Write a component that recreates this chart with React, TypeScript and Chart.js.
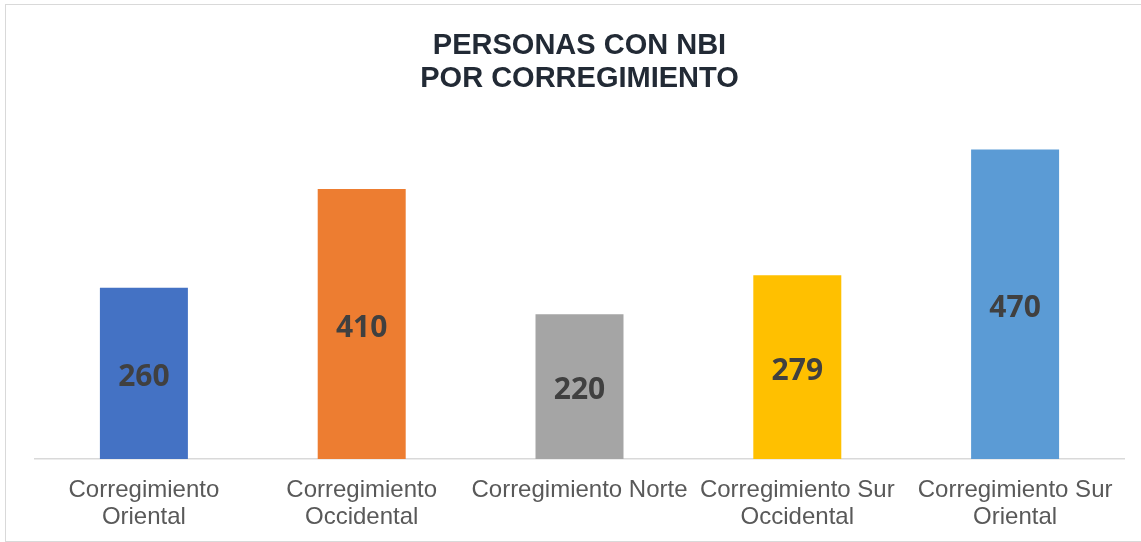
import React, { useEffect, useRef } from "react";
import { Chart, registerables } from "chart.js";

Chart.register(...registerables);

const categories: (string | string[])[] = [
  ["Corregimiento", "Oriental"],
  ["Corregimiento", "Occidental"],
  "Corregimiento Norte",
  ["Corregimiento Sur", "Occidental"],
  ["Corregimiento Sur", "Oriental"],
];
const values = [260, 410, 220, 279, 470];
const barColors = ["#4472C4", "#ED7D31", "#A5A5A5", "#FFC000", "#5B9BD5"];
const titleLines = ["PERSONAS CON NBI", "POR CORREGIMIENTO"];

const valueLabels = {
  id: "valueLabels",
  afterDatasetsDraw(chart: any) {
    const ctx = chart.ctx;
    const meta = chart.getDatasetMeta(0);
    ctx.save();
    ctx.font = "bold 30px 'Open Sans'";
    ctx.fillStyle = "#404040";
    ctx.textAlign = "center";
    ctx.textBaseline = "middle";
    meta.data.forEach((bar: any, i: number) => {
      const { x, y, base } = bar.getProps(["x", "y", "base"], true);
      ctx.fillText(String(chart.data.datasets[0].data[i]), x, (y + base) / 2 + 4);
    });
    ctx.restore();
  },
};

export default function App() {
  const ref = useRef<HTMLCanvasElement>(null);
  useEffect(() => {
    if (!ref.current) return;
    const chart = new Chart(ref.current, {
      type: "bar",
      data: {
        labels: categories,
        datasets: [
          {
            data: values,
            backgroundColor: barColors,
            borderWidth: 0,
            barPercentage: 0.404,
            categoryPercentage: 1,
          },
        ],
      },
      options: {
        animation: false,
        responsive: false,
        maintainAspectRatio: false,
        layout: { padding: { left: 35, right: 17, top: 0, bottom: 14 } },
        plugins: {
          legend: { display: false },
          tooltip: { enabled: false },
          title: {
            display: true,
            text: titleLines,
            color: "#222A35",
            font: { family: "'Liberation Sans', Arial", size: 29, weight: "bold", lineHeight: 1.117 },
            padding: { top: 30, bottom: 35 },
          },
        },
        scales: {
          x: {
            grid: { display: false, drawTicks: false },
            border: { display: true, color: "#D9D9D9", width: 1.5 },
            afterFit: (scale: any) => {
              scale.height = 69;
            },
            ticks: {
              color: "#595959",
              autoSkip: false,
              maxRotation: 0,
              minRotation: 0,
              padding: 18,
              font: { family: "'Liberation Sans', Arial", size: 24, lineHeight: 1.125 },
            },
          },
          y: {
            display: false,
            min: 0,
            max: 500,
          },
        },
      },
      plugins: [valueLabels],
    });
    return () => chart.destroy();
  }, []);

  return (
    <div style={{ position: "absolute", left: 0, top: 0, width: 1141, height: 542, background: "#fff", overflow: "hidden" }}>
      <div
        style={{
          position: "absolute",
          left: 5,
          top: 4,
          width: 1200,
          height: 536,
          border: "1.5px solid #D9D9D9",
        }}
      />
      <canvas ref={ref} width={1141} height={542} style={{ position: "absolute", left: 0, top: 0 }} />
    </div>
  );
}
